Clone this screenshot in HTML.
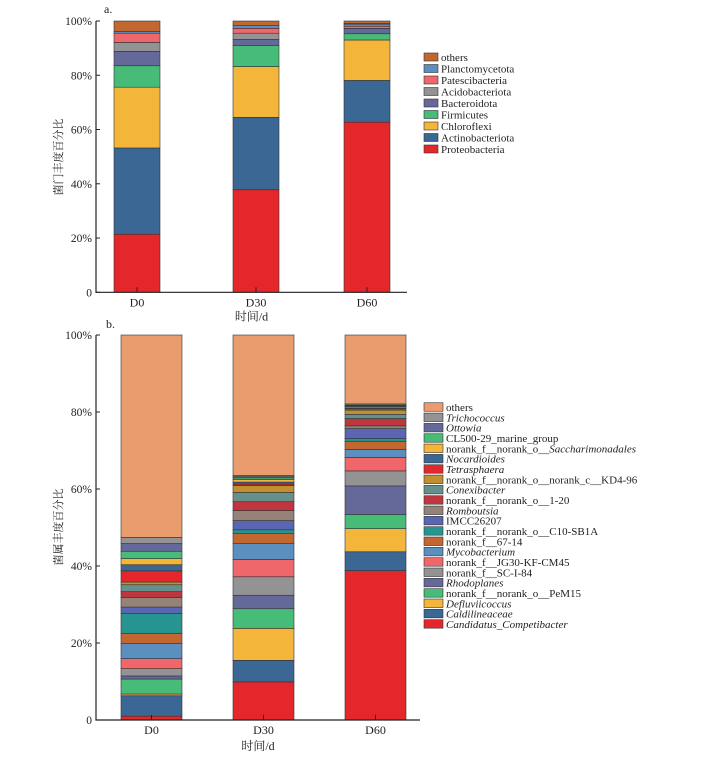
<!DOCTYPE html>
<html><head><meta charset="utf-8">
<style>
body{margin:0;background:#fff;width:710px;height:767px;overflow:hidden}
svg{display:block;font-family:"Liberation Serif","Noto Serif CJK SC",serif}
</style></head>
<body>
<svg id="chart" width="710" height="767" viewBox="0 0 710 767"></svg>
<script>
const NS="http://www.w3.org/2000/svg";
const svg=document.getElementById('chart');
// ---- Chart a data ----
const aDays=["D0","D30","D60"];
const aPhyla=["Proteobacteria","Actinobacteriota","Chloroflexi","Firmicutes","Bacteroidota","Acidobacteriota","Patescibacteria","Planctomycetota","others"];
const aColors=["#e3272a","#3b6795","#f3b53a","#47bb78","#65699a","#939393","#f0676b","#5b8fc0","#c2672f"];
const aD0=[21.4,31.8,22.4,7.9,5.3,3.3,3.4,0.6,3.9];
const aD30=[37.8,26.7,18.7,7.7,2.3,2.3,1.8,1.0,1.7];
const aD60=[62.7,15.4,14.9,2.3,2.0,0.6,0.7,0.5,0.9];
const aVals=[aD0,aD30,aD60];
const aTicks=["0","20%","40%","60%","80%","100%"];
// ---- Chart b data ----
const bDays=["D0","D30","D60"];
const bGenera=["Candidatus_Competibacter","Caldilineaceae","Defluviicoccus","norank_f__norank_o__PeM15","Rhodoplanes","norank_f__SC-I-84","norank_f__JG30-KF-CM45","Mycobacterium","norank_f__67-14","norank_f__norank_o__C10-SB1A","IMCC26207","Romboutsia","norank_f__norank_o__1-20","Conexibacter","norank_f__norank_o__norank_c__KD4-96","Tetrasphaera","Nocardioides","norank_f__norank_o__Saccharimonadales","CL500-29_marine_group","Ottowia","Trichococcus","others"];
const bItalic=[1,1,1,0,1,0,0,1,0,0,0,1,0,1,0,1,1,2,0,1,1,0];
const bColors=["#e3272a","#3b6795","#f3b53a","#47bb78","#65699a","#939393","#f0676b","#5b8fc0","#c2672f","#26958f","#5a66b4","#95837a","#c0363f","#66908c","#c09030","#e3272a","#3b6795","#f3b53a","#47bb78","#65699a","#939393","#eb9c6e"];
const bD0=[1.0,5.3,0.45,3.9,0.8,1.9,2.6,3.9,2.6,5.2,1.7,2.5,1.5,1.8,0.7,2.9,1.6,1.6,1.9,2.0,1.6,52.6];
const bD30=[9.9,5.6,8.3,5.1,3.5,4.8,4.5,4.1,2.6,1.0,2.4,2.6,2.3,2.4,1.8,0.4,0.5,0.7,0.4,0.3,0.3,36.5];
const bD60=[38.8,4.9,6.0,3.7,7.4,3.9,3.5,2.1,2.1,0.7,2.6,0.7,1.9,1.1,1.1,0.4,0.2,0.3,0.2,0.2,0.3,17.9];
const bVals=[bD0,bD30,bD60];
const bTicks=["0","20%","40%","60%","80%","100%"];

function el(tag,attrs,parent){const e=document.createElementNS(NS,tag);for(const k in attrs)e.setAttribute(k,attrs[k]);(parent||svg).appendChild(e);return e;}
function txt(s,attrs,parent){const t=el('text',attrs,parent);t.textContent=s;return t;}

function drawChart(cfg){
  const g=el('g',{});
  
  
  const y=v=>cfg.y0-(v/100)*(cfg.y0-cfg.y100);
  cfg.vals.forEach((arr,i)=>{
    const tot=arr.reduce((a,b)=>a+b,0);
    let cum=0;
    const x=cfg.barX[i];
    arr.forEach((v,j)=>{
      const v0=cum/tot*100;cum+=v;const v1=cum/tot*100;
      const r=el('rect',{x:x,y:y(v1),width:cfg.barW,height:Math.max(0,y(v0)-y(v1)),fill:cfg.colors[j],stroke:'#333','stroke-width':0.6},g);
      
      
    });
    const tl=txt(cfg.days[i],{x:x+cfg.barW/2,y:cfg.y0+cfg.tickOff,'font-size':12,'text-anchor':'middle',fill:'#222'},g);
    
    
    el('line',{x1:x+cfg.barW/2,x2:x+cfg.barW/2,y1:cfg.y0,y2:cfg.y0-5,stroke:'#222'},g);
  });
  const ax=el('path',{d:`M${cfg.ax},${cfg.y100}V${cfg.y0}H${cfg.axEnd}`,fill:'none',stroke:'#222','stroke-width':1.2},g);
  
  
  cfg.ticks.forEach((t,i)=>{
    const yy=y(i*20);
    el('line',{x1:cfg.ax,x2:cfg.ax+4,y1:yy,y2:yy,stroke:'#222'},g);
    const tt=txt(t,{x:cfg.ax-4,y:yy+4,'font-size':11.5,'text-anchor':'end',fill:'#222'},g);
    
    
  });
  const xt=txt('时间/d',{x:(cfg.ax+cfg.axEnd)/2,y:cfg.y0+cfg.titleOff,'font-size':12,'text-anchor':'middle',fill:'#222'},g);
  
  
  const yt=txt(cfg.ytitle,{x:0,y:0,'font-size':11,'text-anchor':'middle',fill:'#222',transform:`translate(${cfg.ytitleX},${cfg.ytitleY}) rotate(-90)`},g);
  
  
  const pl=txt(cfg.label,{x:cfg.labelX,y:cfg.labelY,'font-size':12,fill:'#222'},g);
  
  
  const n=cfg.series.length;
  for(let k=0;k<n;k++){
    const j=n-1-k;
    const ly=cfg.legY+k*cfg.legStep;
    const lg=el('g',{},g);
    
    
    el('rect',{x:424,y:ly-cfg.swH/2,width:cfg.swW,height:cfg.swH,fill:cfg.colors[j],stroke:'#333','stroke-width':0.6},lg);
    const it=cfg.italic?cfg.italic[j]:0;
    const t=el('text',{x:424+cfg.swW+3,y:ly+4,'font-size':11,fill:'#222'},lg);
    if(it===2){
      t.textContent='norank_f__norank_o__';
      const s=el('tspan',{'font-style':'italic'},t);s.textContent='Saccharimonadales';
    }else{
      t.textContent=cfg.series[j];
      if(it===1)t.setAttribute('font-style','italic');
    }
  }
}
drawChart({name:'chart-a-phylum',days:aDays,series:aPhyla,colors:aColors,vals:aVals,ticks:aTicks,
  y0:292.3,y100:21,ax:96,axEnd:407,barX:[114,233,344],barW:46,tickOff:14,titleOff:28,
  ytitle:'菌门丰度百分比',ytitleX:62,ytitleY:157,label:'a.',labelX:104,labelY:13,
  legY:57,legStep:11.5,swW:14,swH:8});
drawChart({name:'chart-b-genus',days:bDays,series:bGenera,colors:bColors,vals:bVals,ticks:bTicks,italic:bItalic,
  y0:720,y100:335,ax:96,axEnd:420,barX:[121,233,345],barW:61,tickOff:14,titleOff:30,
  ytitle:'菌属丰度百分比',ytitleX:62,ytitleY:527,label:'b.',labelX:106,labelY:328,
  legY:407,legStep:10.33,swW:19,swH:8.5});
</script>
</body></html>
